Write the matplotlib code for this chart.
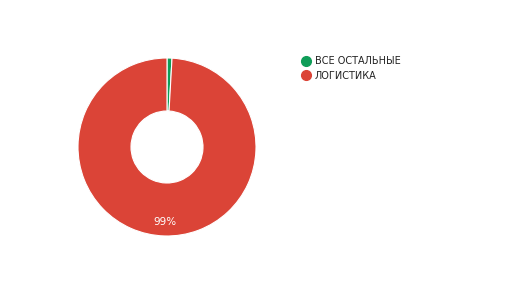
import matplotlib
matplotlib.use("Agg")
import matplotlib.pyplot as plt
from matplotlib.lines import Line2D

categories = ["ВСЕ ОСТАЛЬНЫЕ", "ЛОГИСТИКА"]
values = [0.9, 99.1]
colors = ["#0f9d58", "#db4437"]

W, H = 516, 290
fig = plt.figure(figsize=(W / 100, H / 100), dpi=100)
cx, cy, R = 167, 147, 89
ax = fig.add_axes([(cx - R) / W, (H - cy - R) / H, 2 * R / W, 2 * R / H])

def fmt(p):
    return f"{p:.0f}%" if p >= 5 else ""

wedges, texts, autotexts = ax.pie(
    values, colors=colors, startangle=90, counterclock=False, radius=1,
    wedgeprops=dict(width=1 - 36 / 89, edgecolor="white", linewidth=0.8),
    autopct=fmt, pctdistance=0.84,
    textprops=dict(color="white", fontsize=7.5, family="DejaVu Sans"),
)
ax.set_xlim(-1, 1)
ax.set_ylim(-1, 1)
ax.set_aspect("equal")
ax.axis("off")

handles = [Line2D([0], [0], marker="o", linestyle="", markersize=7,
                  markerfacecolor=c, markeredgecolor=c) for c in colors]
fig.legend(handles, categories, loc="upper left",
           bbox_to_anchor=(301 / W, 1 - 56 / H), frameon=False,
           fontsize=7.0, handletextpad=0.45, labelspacing=0.5,
           handlelength=1.0, borderaxespad=0, borderpad=0,
           labelcolor="#222222")

fig.savefig("out.png", dpi=100, facecolor="white")
